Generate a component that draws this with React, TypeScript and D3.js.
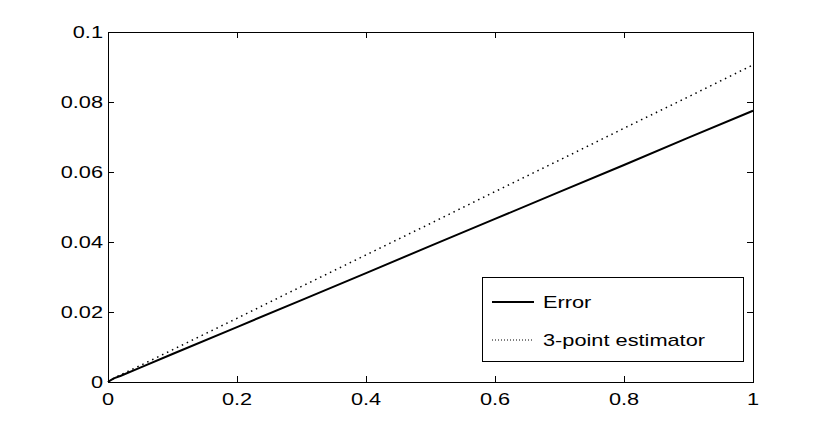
import React from 'react';
import * as d3 from 'd3';

const xValues = [0, 0.005, 0.01, 0.02, 0.05, 0.1, 0.2, 0.3, 0.4, 0.5, 0.6, 0.7, 0.8, 0.9, 1];
const errorValues = [0, 0.0006, 0.0011, 0.0018, 0.0041, 0.008, 0.0157, 0.0234, 0.0311, 0.0389, 0.0466, 0.0543, 0.062, 0.0698, 0.0775];
const estimatorValues = [0, 0.0006, 0.0012, 0.0021, 0.0047, 0.0092, 0.0182, 0.0273, 0.0363, 0.0453, 0.0544, 0.0634, 0.0725, 0.0815, 0.0906];
const xTicks = [0, 0.2, 0.4, 0.6, 0.8, 1];
const yTicks = [0, 0.02, 0.04, 0.06, 0.08, 0.1];
const legendLabels = ['Error', '3-point estimator'];

// the original font is wider than Arial, so stretch it a bit
const Label = ({ x, y, anchor, children }) => (
  <text
    transform={`translate(${x},${y}) scale(1.28,1)`}
    dy='0.36em'
    textAnchor={anchor}
    fontFamily="'Liberation Sans', Arial, sans-serif"
    fontSize='17'
  >
    {children}
  </text>
);

const App = () => {
  const width = 832;
  const height = 430;
  const margin = { top: 32, right: 79, bottom: 48, left: 108 };
  const tickLen = 6;

  const xScale = d3
    .scaleLinear()
    .domain([0, 1])
    .range([margin.left, width - margin.right]);
  const yScale = d3
    .scaleLinear()
    .domain([0, 0.1])
    .range([height - margin.bottom, margin.top]);

  const line = d3
    .line<number>()
    .x((d, i) => xScale(xValues[i]))
    .y(d => yScale(d));

  const errorPath = line(errorValues);
  const estimatorPath = line(estimatorValues);

  const x0 = xScale(0);
  const x1 = xScale(1);
  const y0 = yScale(0);
  const y1 = yScale(0.1);

  // legend box
  const lg = { x: 482, y: 277, w: 261, h: 84 };

  return (
    <div style={{ position: 'absolute', left: 0, top: 0 }}>
      <svg width={width} height={height} viewBox={`0 0 ${width} ${height}`} style={{ display: 'block', background: '#fff' }}>
        <rect x={0} y={0} width={width} height={height} fill='#fff' />
        <path d={estimatorPath} fill='none' stroke='#000' strokeWidth='1.5' strokeDasharray='1.5,4' />
        <path d={errorPath} fill='none' stroke='#000' strokeWidth='2' />

        {/* axes box */}
        <rect x={x0} y={y1} width={x1 - x0} height={y0 - y1} fill='none' stroke='#000' strokeWidth='1' shapeRendering='crispEdges' />

        {xTicks.map((t, i) => (
          <g key={`xt-${i}`}>
            <line x1={xScale(t)} x2={xScale(t)} y1={y0} y2={y0 - tickLen} stroke='#000' shapeRendering='crispEdges' />
            <line x1={xScale(t)} x2={xScale(t)} y1={y1} y2={y1 + tickLen} stroke='#000' shapeRendering='crispEdges' />
            <Label x={xScale(t)} y={y0 + 17} anchor='middle'>
              {d3.format('~g')(t)}
            </Label>
          </g>
        ))}
        {yTicks.map((t, i) => (
          <g key={`yt-${i}`}>
            <line x1={x0} x2={x0 + tickLen} y1={yScale(t)} y2={yScale(t)} stroke='#000' shapeRendering='crispEdges' />
            <line x1={x1} x2={x1 - tickLen} y1={yScale(t)} y2={yScale(t)} stroke='#000' shapeRendering='crispEdges' />
            <Label x={x0 - 5} y={yScale(t)} anchor='end'>
              {d3.format('~g')(t)}
            </Label>
          </g>
        ))}

        {/* legend */}
        <rect x={lg.x} y={lg.y} width={lg.w} height={lg.h} fill='#fff' stroke='#000' strokeWidth='1' shapeRendering='crispEdges' />
        {legendLabels.map((label, i) => {
          const ly = lg.y + 25 + i * 38;
          return (
            <g key={`lg-${i}`}>
              <line
                x1={lg.x + 10}
                x2={lg.x + 52}
                y1={ly}
                y2={ly}
                stroke='#000'
                strokeWidth={i === 0 ? 2 : 1}
                strokeDasharray={i === 0 ? null : '1,2'}
              />
              <Label x={lg.x + 61} y={ly} anchor='start'>
                {label}
              </Label>
            </g>
          );
        })}
      </svg>
    </div>
  );
};

export default App;
